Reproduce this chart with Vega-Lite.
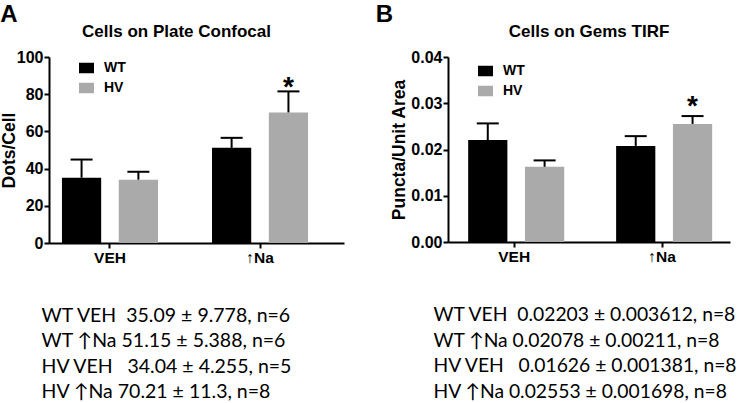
{
  "$schema": "https://vega.github.io/schema/vega-lite/v6.json",
  "padding": {"top": 3, "left": 0, "right": 0, "bottom": 0},
  "background": "white",
  "spacing": 31,
  "config": {
    "view": {"stroke": null},
    "font": "Liberation Sans",
    "axis": {
      "domainColor": "black", "domainWidth": 2, "tickColor": "black", "tickWidth": 2, "tickSize": 5,
      "labelColor": "black", "labelFontWeight": "bold", "labelFont": "Liberation Sans",
      "titleColor": "black", "titleFont": "Liberation Sans", "titleFontWeight": "bold", "grid": false
    },
    "axisX": {"labelFontSize": 15.5, "labelPadding": 2, "labelAngle": 0},
    "legend": {
      "orient": "none", "title": null, "symbolType": "M-1,-0.7H1V0.7H-1Z", "symbolSize": 225,
      "symbolStrokeWidth": 0, "symbolOpacity": 1, "labelFontSize": 14, "labelFontWeight": "bold",
      "labelColor": "black", "labelFont": "Liberation Sans", "labelOffset": 10, "padding": 0
    },
    "title": {"font": "Liberation Sans", "fontWeight": "bold", "color": "black"}
  },
  "datasets": {
    "a": [
      {"condition": "VEH", "genotype": "WT", "mean": 35.09, "hi": 44.868, "star": ""},
      {"condition": "VEH", "genotype": "HV", "mean": 34.04, "hi": 38.295, "star": ""},
      {"condition": "↑Na", "genotype": "WT", "mean": 51.15, "hi": 56.538, "star": ""},
      {"condition": "↑Na", "genotype": "HV", "mean": 70.21, "hi": 81.51, "star": "*"}
    ],
    "b": [
      {"condition": "VEH", "genotype": "WT", "mean": 0.02203, "hi": 0.025642, "star": ""},
      {"condition": "VEH", "genotype": "HV", "mean": 0.01626, "hi": 0.017641, "star": ""},
      {"condition": "↑Na", "genotype": "WT", "mean": 0.02078, "hi": 0.02289, "star": ""},
      {"condition": "↑Na", "genotype": "HV", "mean": 0.02553, "hi": 0.027228, "star": "*"}
    ]
  },
  "resolve": {"legend": {"color": "independent"}},
  "hconcat": [
    {
      "title": {"text": "A", "anchor": "start", "fontSize": 24, "baseline": "top", "offset": -4},
      "resolve": {"legend": {"color": "independent"}},
      "vconcat": [
        {
          "title": {"text": "Cells on Plate Confocal", "fontSize": 17, "anchor": "middle", "baseline": "top", "dx": -20, "offset": 8},
          "width": 295,
          "height": 186,
          "data": {"name": "a"},
          "encoding": {
            "x": {
              "field": "condition", "type": "nominal", "sort": ["VEH", "↑Na"],
              "scale": {"paddingInner": 0.36, "paddingOuter": 0.163, "align": 0.265},
              "axis": {
                "title": ["WT VEH\u00a0\u00a035.09 ± 9.778, n=6", "WT ↑Na 51.15 ± 5.388, n=6", "HV VEH\u00a0\u00a0\u00a034.04 ± 4.255, n=5", "HV ↑Na 70.21 ± 11.3, n=8"],
                "titleFont": "Lato", "titleFontWeight": "normal", "titleFontSize": 19.5, "titleLineHeight": 25.5,
                "titleAnchor": "start", "titleAlign": "left", "titleBaseline": "top", "titleX": -8, "titleY": 63
              }
            },
            "xOffset": {"field": "genotype", "type": "nominal", "sort": ["WT", "HV"], "scale": {"paddingInner": 0.31, "paddingOuter": 0}}
          },
          "layer": [
            {
              "mark": {"type": "bar"},
              "encoding": {
                "y": {
                  "field": "mean", "type": "quantitative", "scale": {"domain": [0, 100], "nice": false},
                  "axis": {"values": [0, 20, 40, 60, 80, 100], "title": "Dots/Cell", "titlePadding": -2, "titleFontSize": 17.5, "labelFontSize": 16, "labelPadding": 1, "labelOverlap": false}
                },
                "color": {
                  "field": "genotype", "type": "nominal", "sort": ["WT", "HV"],
                  "scale": {"domain": ["WT", "HV"], "range": ["#000000", "#aaaaaa"]},
                  "legend": {"legendX": 30, "legendY": 3.5, "rowPadding": 5}
                }
              }
            },
            {
              "mark": {"type": "rule", "color": "black", "strokeWidth": 2},
              "encoding": {
                "y": {
                  "field": "mean", "type": "quantitative", "scale": {"domain": [0, 100], "nice": false},
                  "axis": {"values": [0, 20, 40, 60, 80, 100], "title": "Dots/Cell", "titlePadding": -2, "titleFontSize": 17.5, "labelFontSize": 16, "labelPadding": 1, "labelOverlap": false}
                },
                "y2": {"field": "hi"}
              }
            },
            {
              "mark": {"type": "tick", "color": "black", "thickness": 2, "size": 22, "orient": "horizontal", "opacity": 1},
              "encoding": {
                "y": {
                  "field": "hi", "type": "quantitative", "scale": {"domain": [0, 100], "nice": false},
                  "axis": {"values": [0, 20, 40, 60, 80, 100], "title": "Dots/Cell", "titlePadding": -2, "titleFontSize": 17.5, "labelFontSize": 16, "labelPadding": 1, "labelOverlap": false}
                }
              }
            },
            {
              "mark": {"type": "text", "fontSize": 28, "fontWeight": "bold", "baseline": "alphabetic", "dy": 5, "color": "black"},
              "encoding": {
                "y": {
                  "field": "hi", "type": "quantitative", "scale": {"domain": [0, 100], "nice": false},
                  "axis": {"values": [0, 20, 40, 60, 80, 100], "title": "Dots/Cell", "titlePadding": -2, "titleFontSize": 17.5, "labelFontSize": 16, "labelPadding": 1, "labelOverlap": false}
                },
                "text": {"field": "star"}
              }
            }
          ]
        }
      ]
    },
    {
      "title": {"text": "B", "anchor": "start", "fontSize": 24, "baseline": "top", "offset": -4, "dx": -15},
      "resolve": {"legend": {"color": "independent"}},
      "vconcat": [
        {
          "title": {"text": "Cells on Gems TIRF", "fontSize": 17, "anchor": "middle", "baseline": "top", "offset": 8},
          "width": 282,
          "height": 185,
          "data": {"name": "b"},
          "encoding": {
            "x": {
              "field": "condition", "type": "nominal", "sort": ["VEH", "↑Na"],
              "scale": {"paddingInner": 0.378, "paddingOuter": 0.142, "align": 0.48},
              "axis": {
                "title": ["WT VEH\u00a0\u00a00.02203 ± 0.003612, n=8", "WT ↑Na 0.02078 ± 0.00211, n=8", "HV VEH\u00a0\u00a0\u00a00.01626 ± 0.001381, n=8", "HV ↑Na 0.02553 ± 0.001698, n=8"],
                "titleFont": "Lato", "titleFontWeight": "normal", "titleFontSize": 19.3, "titleLineHeight": 25.5,
                "titleAnchor": "start", "titleAlign": "left", "titleBaseline": "top", "titleX": -15, "titleY": 63.5
              }
            },
            "xOffset": {"field": "genotype", "type": "nominal", "sort": ["WT", "HV"], "scale": {"paddingInner": 0.33, "paddingOuter": 0}}
          },
          "layer": [
            {
              "mark": {"type": "bar"},
              "encoding": {
                "y": {
                  "field": "mean", "type": "quantitative", "scale": {"domain": [0, 0.04], "nice": false},
                  "axis": {"values": [0, 0.01, 0.02, 0.03, 0.04], "format": ".2f", "title": "Puncta/Unit Area", "titlePadding": 2, "titleFontSize": 17.5, "labelFontSize": 16, "labelPadding": 1, "labelOverlap": false}
                },
                "color": {
                  "field": "genotype", "type": "nominal", "sort": ["WT", "HV"],
                  "scale": {"domain": ["WT", "HV"], "range": ["#000000", "#aaaaaa"]},
                  "legend": {"legendX": 30, "legendY": 6.5, "rowPadding": 5}
                }
              }
            },
            {
              "mark": {"type": "rule", "color": "black", "strokeWidth": 2},
              "encoding": {
                "y": {
                  "field": "mean", "type": "quantitative", "scale": {"domain": [0, 0.04], "nice": false},
                  "axis": {"values": [0, 0.01, 0.02, 0.03, 0.04], "format": ".2f", "title": "Puncta/Unit Area", "titlePadding": 2, "titleFontSize": 17.5, "labelFontSize": 16, "labelPadding": 1, "labelOverlap": false}
                },
                "y2": {"field": "hi"}
              }
            },
            {
              "mark": {"type": "tick", "color": "black", "thickness": 2, "size": 22, "orient": "horizontal", "opacity": 1},
              "encoding": {
                "y": {
                  "field": "hi", "type": "quantitative", "scale": {"domain": [0, 0.04], "nice": false},
                  "axis": {"values": [0, 0.01, 0.02, 0.03, 0.04], "format": ".2f", "title": "Puncta/Unit Area", "titlePadding": 2, "titleFontSize": 17.5, "labelFontSize": 16, "labelPadding": 1, "labelOverlap": false}
                }
              }
            },
            {
              "mark": {"type": "text", "fontSize": 28, "fontWeight": "bold", "baseline": "alphabetic", "dy": -1, "color": "black"},
              "encoding": {
                "y": {
                  "field": "hi", "type": "quantitative", "scale": {"domain": [0, 0.04], "nice": false},
                  "axis": {"values": [0, 0.01, 0.02, 0.03, 0.04], "format": ".2f", "title": "Puncta/Unit Area", "titlePadding": 2, "titleFontSize": 17.5, "labelFontSize": 16, "labelPadding": 1, "labelOverlap": false}
                },
                "text": {"field": "star"}
              }
            }
          ]
        }
      ]
    }
  ]
}
